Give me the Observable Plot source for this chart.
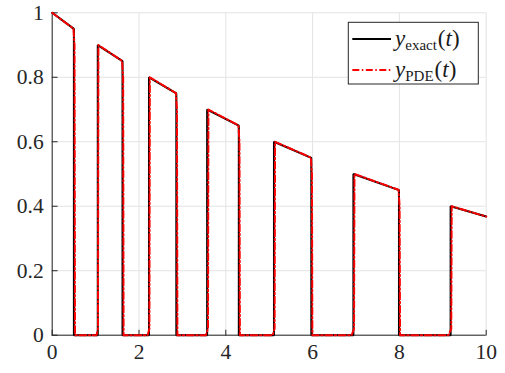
<!DOCTYPE html>
<html>
<head>
<meta charset="utf-8">
<script src="https://cdn.jsdelivr.net/npm/d3@7"></script>
<script src="https://cdn.jsdelivr.net/npm/@observablehq/plot@0.6"></script>
<style>
  html, body { margin: 0; padding: 0; background: #fff; }
  #chart { width: 505px; height: 373px; }
  #chart svg text, #chart svg tspan { font-family: "Liberation Serif", serif !important; }
</style>
</head>
<body>
<div id="chart"></div>
<script>
// Exact solution (piecewise)
const tExact = [0, 0.5, 0.5, 1.05, 1.05, 1.62, 1.62, 2.23, 2.23, 2.86, 2.86, 3.57, 3.57, 4.30, 4.30, 5.11, 5.11, 5.97, 5.97, 6.94, 6.94, 7.99, 7.99, 9.18, 9.18, 10];
const yExact = [1, 0.95, 0, 0, 0.9, 0.85, 0, 0, 0.8, 0.75, 0, 0, 0.7, 0.65, 0, 0, 0.6, 0.55, 0, 0, 0.5, 0.45, 0, 0, 0.4, 0.368];

// PDE approximation (slightly smoothed / lagged at the jumps)
const tPDE = [0, 0.49, 0.515, 0.525, 1.02, 1.055, 1.065, 1.61, 1.635, 1.645, 2.20, 2.24, 2.25, 2.85, 2.875, 2.885, 3.54, 3.59, 3.60, 4.29, 4.315, 4.325, 5.08, 5.125, 5.135, 5.96, 5.985, 5.995, 6.90, 6.955, 6.965, 7.98, 8.005, 8.015, 9.13, 9.195, 9.205, 10];
const yPDE = [1, 0.951, 0.9, 0, 0, 0.02, 0.9, 0.851, 0.8, 0, 0, 0.02, 0.8, 0.751, 0.7, 0, 0, 0.02, 0.7, 0.651, 0.6, 0, 0, 0.02, 0.6, 0.551, 0.5, 0, 0, 0.02, 0.5, 0.451, 0.4, 0, 0, 0.02, 0.4, 0.368];

const xTicks = [0, 2, 4, 6, 8, 10];
const yTicks = [0, 0.2, 0.4, 0.6, 0.8, 1];
const seriesLabels = ["exact", "PDE"];

const exact = tExact.map((t, i) => ({t, y: yExact[i]}));
const pde = tPDE.map((t, i) => ({t, y: yPDE[i]}));

const axisColor = "#262626";
const gridColor = "#e3e3e3";
const serif = "Liberation Serif";
const tickShape = {draw(context, l) { context.moveTo(0, 0); context.lineTo(0, -l); }};

const chart = Plot.plot({
  width: 505,
  height: 373,
  marginLeft: 51.7,
  marginRight: 19.3,
  marginTop: 12.3,
  marginBottom: 38.3,
  style: {fontFamily: serif, fontSize: "21.5px", color: axisColor, background: "#fff"},
  x: {domain: [0, 10], label: null},
  y: {domain: [0, 1], label: null},
  marks: [
    Plot.gridX(xTicks, {stroke: gridColor, strokeOpacity: 1}),
    Plot.gridY(yTicks, {stroke: gridColor, strokeOpacity: 1}),
    Plot.ruleX([0], {stroke: axisColor, strokeWidth: 1}),
    Plot.ruleY([0], {stroke: axisColor, strokeWidth: 1}),
    Plot.vector(xTicks, {x: d => d, y: 0, length: 5, rotate: 0, anchor: "start", shape: tickShape, stroke: axisColor, strokeWidth: 1}),
    Plot.vector(yTicks, {x: 0, y: d => d, length: 5, rotate: 90, anchor: "start", shape: tickShape, stroke: axisColor, strokeWidth: 1}),
    Plot.axisX(xTicks, {tickSize: 0, tickPadding: 9, label: null, stroke: null, fontFamily: serif, fontSize: 21.5, tickFormat: d => String(d)}),
    Plot.axisY(yTicks, {tickSize: 0, tickPadding: 8.5, label: null, stroke: null, fontFamily: serif, fontSize: 21.5, tickFormat: d => String(d)}),
    Plot.line(exact, {x: "t", y: "y", stroke: "#000", strokeWidth: 2, strokeLinejoin: "miter"}),
    Plot.line(pde, {x: "t", y: "y", stroke: "#ff0000", strokeWidth: 2, strokeDasharray: "7,2.5,1.5,2.5", strokeLinejoin: "round"})
  ]
});
document.getElementById("chart").appendChild(chart);

// Legend (drawn into the SVG)
const svg = d3.select(chart);
const lg = svg.append("g").attr("text-anchor", "start").attr("font-family", serif);
lg.append("rect").attr("x", 348.3).attr("y", 22.3).attr("width", 130).attr("height", 61.7)
  .attr("fill", "#fff").attr("stroke", axisColor).attr("stroke-width", 1);
const rows = [
  {sub: seriesLabels[0], stroke: "#000", dash: null, yLine: 39, yText: 46},
  {sub: seriesLabels[1], stroke: "#ff0000", dash: "7,2.5,1.5,2.5", yLine: 70, yText: 77}
];
rows.forEach(r => {
  const ln = lg.append("line").attr("x1", 352.3).attr("x2", 391).attr("y1", r.yLine).attr("y2", r.yLine)
    .attr("stroke", r.stroke).attr("stroke-width", 2);
  if (r.dash) ln.attr("stroke-dasharray", r.dash);
  const tx = lg.append("text").attr("x", 395).attr("y", r.yText).attr("font-size", 23).attr("fill", "#1a1a1a");
  tx.append("tspan").attr("font-style", "italic").text("y");
  tx.append("tspan").attr("font-size", 15).attr("dy", 4).text(r.sub);
  tx.append("tspan").attr("dy", -4).attr("dx", 1).text("(");
  tx.append("tspan").attr("font-style", "italic").text("t");
  tx.append("tspan").text(")");
});
svg.selectAll("text").attr("font-family", serif).style("font-family", serif);
</script>
</body>
</html>
